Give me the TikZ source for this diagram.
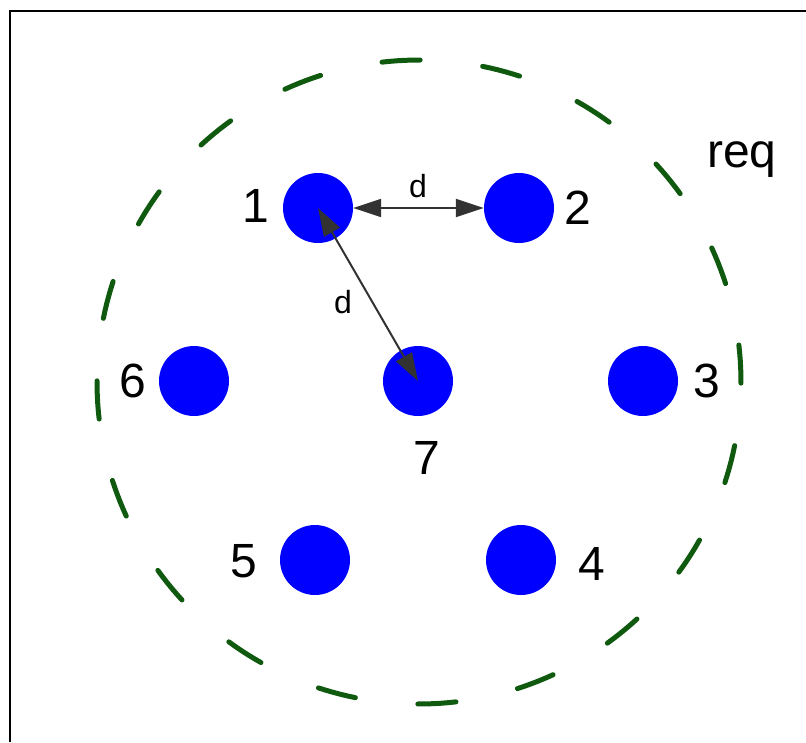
\documentclass[tikz,border=0pt]{standalone}
\usepackage{fontspec}
\setmainfont{Liberation Sans}
\usetikzlibrary{arrows.meta}
\definecolor{dgreen}{RGB}{16,90,16}
\definecolor{arrgray}{RGB}{50,50,50}
\begin{document}
\begin{tikzpicture}[x=1pt,y=-1pt,
  dot/.style={circle,fill=blue,minimum size=70pt,inner sep=0pt},
  num/.style={font=\fontsize{48}{48}\selectfont, text=black, inner sep=0pt},
  dl/.style={font=\fontsize{32}{32}\selectfont, text=black, inner sep=0pt},
  arr/.style={draw=arrgray, line width=2pt, {Triangle[length=28pt,width=18pt]}-{Triangle[length=28pt,width=18pt]}},
  dashseg/.style={draw=dgreen,line width=5pt,line cap=round}]
\useasboundingbox (0,0) rectangle (806,742);
% frame
\draw[line width=2.5pt] (10,742) -- (10,11) -- (806,11);
% dashed boundary circle
\foreach \k in {0,...,19} {
  \pgfmathsetmacro\c{-3.2+18*\k}
  \pgfmathsetmacro\a{\c-3.4}
  \pgfmathsetmacro\b{\c+3.4}
  \draw[dashseg] plot[domain=\a:\b, samples=6] ({419+322*cos(\x)},{382+322*sin(\x)});
}
% dots
\node[dot] (n1) at (318,208) {};
\node[dot] (n2) at (519,208) {};
\node[dot] (n6) at (194,381) {};
\node[dot] (n7) at (418,381) {};
\node[dot] (n3) at (643,381) {};
\node[dot] (n5) at (315,560) {};
\node[dot] (n4) at (521,560) {};
% labels
\node[num] (l1) at (256,206) {1};
\node[num] (l2) at (578,208) {2};
\node[num] (l6) at (133,381) {6};
\node[num] (l3) at (707,381) {3};
\node[num] (l7) at (427,458) {7};
\node[num] (l5) at (244,561) {5};
\node[num] (l4) at (592,564) {4};
\node[num, anchor=base] (lreq) at (742,167) {req};
% distance arrows
\draw[arr] (n1.east) -- (n2.west);
\draw[arr] (n1.center) -- (n7.center);
\node[dl] (d1) at (418,186) {d};
\node[dl] (d2) at (343,302) {d};
\end{tikzpicture}
\end{document}
